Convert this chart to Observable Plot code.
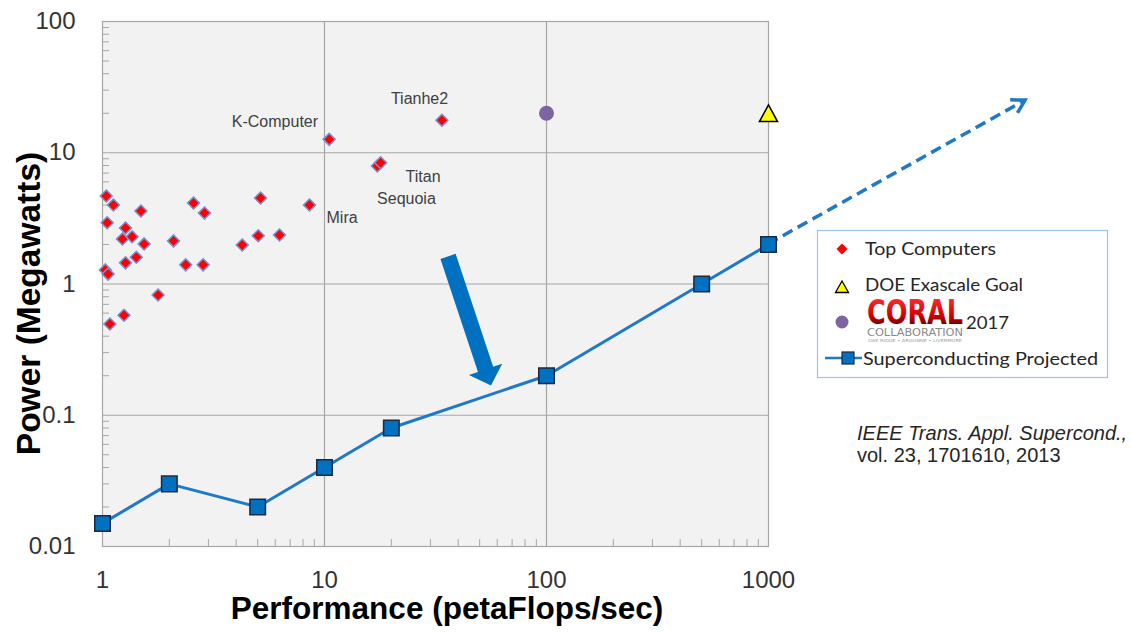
<!DOCTYPE html>
<html><head><meta charset="utf-8">
<script src="https://cdn.jsdelivr.net/npm/d3@7"></script>
<script src="https://cdn.jsdelivr.net/npm/@observablehq/plot@0.6"></script>
<style>
html,body{margin:0;padding:0;background:#fff;}
#wrap{position:relative;width:1131px;height:632px;overflow:hidden;background:#fff;}
</style></head><body><div id="wrap"></div>
<script>
// ---- data ----
const topPerf  = [1.04,1.12,1.49,2.57,2.88,5.15,8.56,1.05,1.27,1.23,1.36,1.54,2.09,4.26,5.03,6.27,1.27,1.42,2.37,2.84,1.03,1.06,1.78,1.25,1.08,10.5,33.8,17.3,17.9];
const topPower = [4.68,4.00,3.60,4.14,3.47,4.52,4.00,2.93,2.67,2.20,2.29,2.02,2.13,1.98,2.33,2.36,1.45,1.60,1.40,1.40,1.28,1.19,0.825,0.578,0.496,12.65,17.7,7.92,8.39];
const coralPerf = [100];
const coralPower = [20];
const exaPerf = [1000];
const exaPower = [20];
const scPerf  = [1, 2, 5, 10, 20, 100, 500, 1000];
const scPower = [0.015, 0.03, 0.02, 0.04, 0.08, 0.2, 1, 2];
const trendPerf  = [1000, 14400];
const trendPower = [2, 25];
const arrowPerf  = [36.2, 56.5];
const arrowPower = [1.61, 0.167];
const labelNames = ["Tianhe2", "K-Computer", "Titan", "Sequoia", "Mira"];
const labelPerf  = [26.8, 5.98, 27.8, 23.4, 12.0];
const labelPower = [25.6, 17.2, 6.5, 4.49, 3.17];
const xTicks = [1, 10, 100, 1000];
const yTicks = [0.01, 0.1, 1, 10, 100];
const xGrid = [10, 100];
const yGrid = [0.1, 1, 10];
const minorX = [2,3,4,5,6,7,8,9,20,30,40,50,60,70,80,90,200,300,400,500,600,700,800,900];
const minorY = [0.02,0.03,0.04,0.05,0.06,0.07,0.08,0.09,0.2,0.3,0.4,0.5,0.6,0.7,0.8,0.9,2,3,4,5,6,7,8,9,20,30,40,50,60,70,80,90];

// ---- tables built from the arrays ----
const tops = topPerf.map((p, i) => ({perf: p, power: topPower[i]}));
const coral = coralPerf.map((p, i) => ({perf: p, power: coralPower[i]}));
const exa = exaPerf.map((p, i) => ({perf: p, power: exaPower[i]}));
const sc = scPerf.map((p, i) => ({perf: p, power: scPower[i]}));
const labels = labelNames.map((n, i) => ({name: n, perf: labelPerf[i], power: labelPower[i]}));

const triBox = {draw(ctx, size) {
  const r = Math.sqrt(size / Math.PI), s = r * 1.35, h = s * 1.85;
  ctx.moveTo(0, -h / 2); ctx.lineTo(s, h / 2); ctx.lineTo(-s, h / 2); ctx.closePath();
}};

function bigArrow(index, {x, y}) {
  const x1 = x(arrowPerf[0]), y1 = y(arrowPower[0]), x2 = x(arrowPerf[1]), y2 = y(arrowPower[1]);
  const dx = x2 - x1, dy = y2 - y1, L = Math.hypot(dx, dy), ux = dx / L, uy = dy / L, px = -uy, py = ux;
  const sw = 8, hw = 17.5, hl = 17;
  const bx = x2 - ux * hl, by = y2 - uy * hl;
  const pts = [[x1 + px*sw, y1 + py*sw], [bx + px*sw, by + py*sw], [bx + px*hw, by + py*hw], [x2, y2],
               [bx - px*hw, by - py*hw], [bx - px*sw, by - py*sw], [x1 - px*sw, y1 - py*sw]];
  return d3.create("svg:path").attr("d", "M" + pts.join("L") + "Z").attr("fill", "#0070c0").node();
}

function trendArrow(index, {x, y}) {
  const x1 = x(trendPerf[0]), y1 = y(trendPower[0]), x2 = x(trendPerf[1]), y2 = y(trendPower[1]);
  const dx = x2 - x1, dy = y2 - y1, L = Math.hypot(dx, dy), ux = dx / L, uy = dy / L;
  const g = d3.create("svg:g").attr("fill", "none").attr("stroke", "#1f78c8").attr("stroke-width", 3.5);
  g.append("path").attr("d", `M${x1},${y1}L${x2 - ux*3},${y2 - uy*3}`).attr("stroke-dasharray", "11,6");
  const wl = 15, a = Math.PI / 6;
  const w = s => [x2 - wl * (ux * Math.cos(a) - s * uy * Math.sin(a)), y2 - wl * (uy * Math.cos(a) + s * ux * Math.sin(a))];
  g.append("path").attr("d", "M" + w(1) + "L" + [x2, y2] + "L" + w(-1)).attr("stroke-linejoin", "miter");
  return g.node();
}

const chart = Plot.plot({
  width: 1131, height: 632,
  marginLeft: 102, marginRight: 363, marginTop: 21, marginBottom: 86,
  x: {type: "log", domain: [1, 1000]},
  y: {type: "log", domain: [0.01, 100]},
  style: {fontFamily: "'Liberation Sans', Arial, sans-serif", background: "transparent", overflow: "visible"},
  marks: [
    Plot.frame({fill: "#f2f2f2", stroke: null}),
    Plot.ruleX(xGrid, {stroke: "#a6a6a6", strokeWidth: 1.2}),
    Plot.ruleY(yGrid, {stroke: "#a6a6a6", strokeWidth: 1.2}),
    Plot.axisX({ticks: minorX, tickSize: 7, dy: -7, fill: "none", stroke: "#a6a6a6", label: null}),
    Plot.axisY({ticks: minorY, tickSize: 7, dx: 7, fill: "none", stroke: "#a6a6a6", label: null}),
    Plot.frame({stroke: "#a6a6a6", strokeWidth: 1.2}),
    Plot.axisX({ticks: xTicks, tickSize: 0, tickPadding: 24, tickFormat: d => String(d), fontSize: 24, fill: "#333", label: null}),
    Plot.axisY({ticks: yTicks, tickSize: 0, tickPadding: 27, tickFormat: d => String(d), fontSize: 24, fill: "#333", label: null}),
    Plot.text(["Performance (petaFlops/sec)"], {text: d => d, frameAnchor: "bottom", textAnchor: "middle", lineAnchor: "middle", dx: 11.5, dy: 62, fontSize: 31.5, fontWeight: "bold", fill: "#000"}),
    Plot.text(["Power (Megawatts)"], {text: d => d, frameAnchor: "left", textAnchor: "middle", lineAnchor: "middle", dx: -73.5, dy: 19.5, rotate: -90, fontSize: 33.5, fontWeight: "bold", fill: "#000"}),
    trendArrow,
    Plot.line(sc, {x: "perf", y: "power", stroke: "#1f78c8", strokeWidth: 3}),
    Plot.dot(sc, {x: "perf", y: "power", symbol: "square", r: 8.75, fill: "#0070c0", stroke: "#1a2a40", strokeWidth: 1.5}),
    Plot.dot(tops, {x: "perf", y: "power", symbol: "diamond2", r: 5.4, fill: "#ff0000", stroke: "#7393d3", strokeWidth: 1.5}),
    Plot.dot(coral, {x: "perf", y: "power", r: 7.5, fill: "#8064a2"}),
    Plot.dot(exa, {x: "perf", y: "power", symbol: triBox, r: 6.7, fill: "#ffff00", stroke: "#000", strokeWidth: 1.5}),
    Plot.text(labels, {x: "perf", y: "power", text: "name", fontSize: 16, fill: "#404040"}),
    bigArrow
  ]
});
document.getElementById("wrap").appendChild(chart);

// ---- legend and citation overlay ----
const ov = d3.select("#wrap").append("svg")
  .attr("width", 1131).attr("height", 632)
  .style("position", "absolute").style("left", "0px").style("top", "0px");
const defs = ov.append("defs");
const grad = defs.append("linearGradient").attr("id", "coralGrad").attr("x1", 0).attr("y1", 0).attr("x2", 0).attr("y2", 1);
grad.append("stop").attr("offset", "0").attr("stop-color", "#ff4040");
grad.append("stop").attr("offset", "0.55").attr("stop-color", "#d80000");
grad.append("stop").attr("offset", "1").attr("stop-color", "#2a0000");

ov.append("rect").attr("x", 817.5).attr("y", 230.5).attr("width", 290).attr("height", 147)
  .attr("fill", "#fff").attr("stroke", "#9dc3e6").attr("stroke-width", 1.2);
const lf = "Lato, 'Noto Sans', sans-serif";
function ltext(str, x, yb, w) {
  ov.append("text").attr("x", x).attr("y", yb).attr("font-family", lf).attr("font-size", 18)
    .attr("fill", "#262626").attr("textLength", w).attr("lengthAdjust", "spacingAndGlyphs").text(str);
}
ov.append("path").attr("d", "M842,243.5L847.5,249L842,254.5L836.5,249Z").attr("fill", "#ff0000");
ltext("Top Computers", 865, 254.5, 131);
ov.append("path").attr("d", "M842,281L848.5,292.5L835.5,292.5Z").attr("fill", "#ffff00").attr("stroke", "#000").attr("stroke-width", 1.3);
ltext("DOE Exascale Goal", 865, 290.5, 158);
ov.append("circle").attr("cx", 842).attr("cy", 322).attr("r", 6.5).attr("fill", "#8064a2");
ov.append("text").attr("x", 867).attr("y", 324).attr("font-family", "'DejaVu Sans Condensed', 'DejaVu Sans', sans-serif")
  .attr("font-weight", "bold").attr("font-size", 33).attr("fill", "url(#coralGrad)")
  .attr("textLength", 96).attr("lengthAdjust", "spacingAndGlyphs").text("CORAL");
ov.append("text").attr("x", 867).attr("y", 335.5).attr("font-family", "'DejaVu Sans', sans-serif")
  .attr("font-size", 10.5).attr("fill", "#8a8a8a")
  .attr("textLength", 96).attr("lengthAdjust", "spacingAndGlyphs").text("COLLABORATION");
ov.append("text").attr("x", 868).attr("y", 341.5).attr("font-family", "'DejaVu Sans', sans-serif")
  .attr("font-size", 4).attr("fill", "#999")
  .attr("textLength", 94).attr("lengthAdjust", "spacingAndGlyphs").text("OAK RIDGE • ARGONNE • LIVERMORE");
ltext("2017", 966, 328.5, 43);
ov.append("line").attr("x1", 825).attr("x2", 862).attr("y1", 358).attr("y2", 358).attr("stroke", "#1f78c8").attr("stroke-width", 2.5);
ov.append("rect").attr("x", 842).attr("y", 352).attr("width", 12).attr("height", 12).attr("fill", "#0070c0").attr("stroke", "#1a2a40").attr("stroke-width", 1.2);
ltext("Superconducting Projected", 863, 364.5, 235);

const cf = "'Liberation Sans', Arial, sans-serif";
ov.append("text").attr("x", 857).attr("y", 440).attr("font-family", cf).attr("font-size", 20).attr("font-style", "italic")
  .attr("fill", "#262626").text("IEEE Trans. Appl. Supercond.,");
ov.append("text").attr("x", 857).attr("y", 462).attr("font-family", cf).attr("font-size", 20)
  .attr("fill", "#262626").text("vol. 23, 1701610, 2013");
</script></body></html>
